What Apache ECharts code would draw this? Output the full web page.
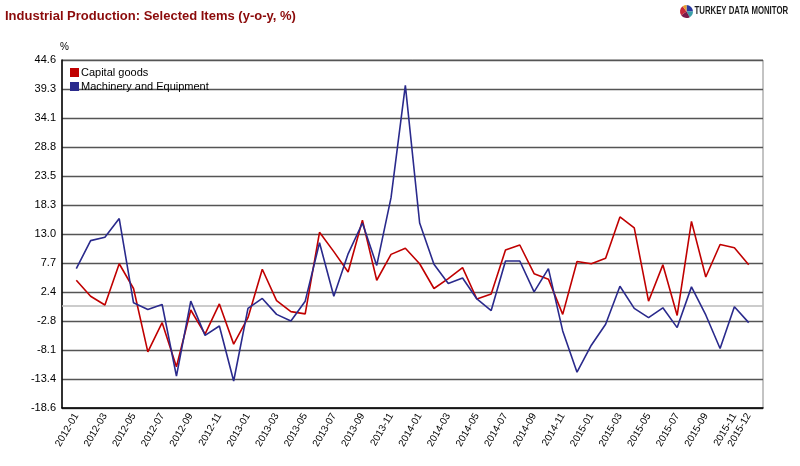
<!DOCTYPE html>
<html>
<head>
<meta charset="utf-8">
<script src="https://cdn.jsdelivr.net/npm/echarts@6/dist/echarts.min.js"></script>
<style>
  html, body { margin: 0; padding: 0; background: #fff; }
  #chart { width: 800px; height: 466px; }
</style>
</head>
<body>
<div id="chart"></div>
<script>
var months = [
  '2012-01','2012-02','2012-03','2012-04','2012-05','2012-06','2012-07','2012-08','2012-09','2012-10','2012-11','2012-12',
  '2013-01','2013-02','2013-03','2013-04','2013-05','2013-06','2013-07','2013-08','2013-09','2013-10','2013-11','2013-12',
  '2014-01','2014-02','2014-03','2014-04','2014-05','2014-06','2014-07','2014-08','2014-09','2014-10','2014-11','2014-12',
  '2015-01','2015-02','2015-03','2015-04','2015-05','2015-06','2015-07','2015-08','2015-09','2015-10','2015-11','2015-12'
];

// Capital goods
var capitalGoods = [
  4.6, 1.7, 0.1, 7.6, 3.1, -8.4, -3.1, -11.1, -0.8, -5.2, 0.3, -7.0,
  -2.2, 6.6, 0.9, -1.1, -1.5, 13.3, 9.8, 6.1, 15.5, 4.6, 9.3, 10.4,
  7.6, 3.1, 4.9, 6.9, 1.2, 2.1, 10.1, 11.0, 5.8, 4.8, -1.6, 8.0,
  7.6, 8.6, 16.1, 14.1, 0.8, 7.4, -1.8, 15.3, 5.2, 11.1, 10.5, 7.4
];

// Machinery and Equipment
var machinery = [
  6.7, 11.8, 12.4, 15.8, 0.5, -0.7, 0.2, -12.8, 0.8, -5.4, -3.7, -13.7,
  -0.5, 1.3, -1.6, -2.8, 0.8, 11.4, 1.7, 9.4, 15.0, 7.3, 19.6, 40.0,
  15.0, 7.5, 4.0, 5.0, 1.2, -0.9, 8.1, 8.1, 2.5, 6.7, -4.6, -12.1,
  -7.2, -3.4, 3.5, -0.5, -2.2, -0.4, -4.0, 3.4, -1.7, -7.8, -0.2, -3.1
];

var yTicks = [-18.6, -13.4, -8.1, -2.8, 2.4, 7.7, 13.0, 18.3, 23.5, 28.8, 34.1, 39.3, 44.6];

var myChart;

function pairs(values) {
  return values.map(function (v, i) { return [i, v]; });
}

function createChart(divId) {
  myChart = echarts.init(document.getElementById(divId), null, { renderer: 'canvas' });

  var font = 'Arial, "Liberation Sans", sans-serif';

  var option = {
    animation: false,
    backgroundColor: '#fff',
    textStyle: { fontFamily: font },
    title: {
      text: 'Industrial Production: Selected Items (y-o-y, %)',
      left: 5,
      top: 10,
      padding: 0,
      textStyle: { color: '#8b0a0a', fontSize: 13, fontWeight: 'bold', fontFamily: font }
    },
    legend: {
      orient: 'vertical',
      left: 65,
      top: 62,
      icon: 'rect',
      itemWidth: 9,
      itemHeight: 9,
      itemGap: 3,
      textStyle: { fontSize: 11, color: '#000', padding: [0, 0, 0, -3] },
      data: ['Capital goods', 'Machinery and Equipment']
    },
    grid: {
      left: 62,
      right: 37,
      top: 60,
      bottom: 58,
      show: true,
      borderColor: '#888',
      borderWidth: 1
    },
    xAxis: {
      type: 'value',
      min: -1,
      max: months.length,
      interval: 1,
      axisLine: { show: true, onZero: false, lineStyle: { color: '#000', width: 1.5 } },
      axisTick: { show: false },
      splitLine: { show: false },
      axisLabel: {
        rotate: 60,
        fontSize: 10,
        color: '#000',
        margin: 6,
        showMinLabel: true,
        showMaxLabel: true,
        formatter: function (v) {
          var i = Math.round(v);
          if (i < 0 || i >= months.length) return '';
          if (i % 2 === 0 || i === months.length - 1) return months[i];
          return '';
        }
      }
    },
    yAxis: {
      type: 'value',
      min: yTicks[0],
      max: yTicks[yTicks.length - 1],
      name: '%',
      nameLocation: 'end',
      nameGap: 8,
      nameTextStyle: { color: '#000', fontSize: 10, align: 'left', padding: [0, 0, 0, -2] },
      axisLine: { show: true, onZero: false, lineStyle: { color: '#000', width: 1.5 } },
      axisTick: { show: false, customValues: yTicks },
      axisLabel: {
        customValues: yTicks,
        fontSize: 11,
        color: '#000',
        margin: 6,
        formatter: function (v) { return v.toFixed(1); }
      },
      splitLine: { show: true, lineStyle: { color: '#555', width: 1.3 } }
    },
    series: [
      {
        name: 'Capital goods',
        type: 'line',
        data: pairs(capitalGoods),
        showSymbol: false,
        symbol: 'none',
        itemStyle: { color: '#c00000' },
        lineStyle: { color: '#c00000', width: 1.6 },
        z: 3,
        markLine: {
          silent: true,
          symbol: 'none',
          label: { show: false },
          lineStyle: { color: '#bbb', width: 1.5, type: 'solid' },
          data: [{ yAxis: 0 }],
          z: 1
        }
      },
      {
        name: 'Machinery and Equipment',
        type: 'line',
        data: pairs(machinery),
        showSymbol: false,
        symbol: 'none',
        itemStyle: { color: '#2a2a8c' },
        lineStyle: { color: '#2a2a8c', width: 1.6 },
        z: 4
      }
    ],
    graphic: [
      {
        type: 'group',
        left: 680,
        top: 5,
        children: [
          { type: 'sector', shape: { cx: 6, cy: 7, r: 6.5, startAngle: -Math.PI / 2, endAngle: 0 }, style: { fill: '#2b3aa0' } },
          { type: 'sector', shape: { cx: 6, cy: 7, r: 6.5, startAngle: 0, endAngle: Math.PI / 3 }, style: { fill: '#3aa0a8' } },
          { type: 'sector', shape: { cx: 6, cy: 7, r: 6.5, startAngle: Math.PI / 3, endAngle: Math.PI * 0.8 }, style: { fill: '#7a1a4a' } },
          { type: 'sector', shape: { cx: 6, cy: 7, r: 6.5, startAngle: Math.PI * 0.8, endAngle: Math.PI * 1.3 }, style: { fill: '#c8283a' } },
          { type: 'sector', shape: { cx: 6, cy: 7, r: 6.5, startAngle: Math.PI * 1.3, endAngle: Math.PI * 1.5 }, style: { fill: '#e8a030' } },
          {
            type: 'text',
            x: 14,
            y: 2,
            scaleX: 0.78,
            style: {
              text: 'TURKEY DATA MONITOR',
              fill: '#1a1a1a',
              font: 'bold 10px Arial, "Liberation Sans", sans-serif'
            }
          }
        ]
      }
    ]
  };

  myChart.setOption(option, true);
  return myChart;
}

createChart('chart');
</script>
</body>
</html>
